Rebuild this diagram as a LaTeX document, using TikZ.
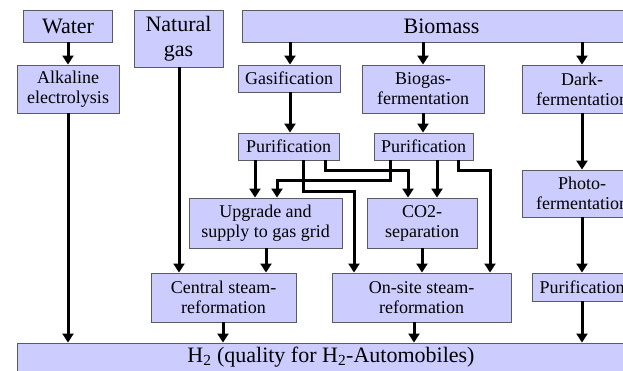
\documentclass[tikz,border=0pt]{standalone}
\usepackage{fontspec}
\setmainfont{Liberation Serif}
\usetikzlibrary{arrows.meta}
\definecolor{boxfill}{RGB}{204,204,255}
\definecolor{boxline}{RGB}{90,90,100}
\tikzset{
  box/.style={draw=boxline, line width=0.9pt, fill=boxfill, inner sep=0pt, align=center,
    font=\fontsize{18}{20}\selectfont},
  bigbox/.style={box, font=\fontsize{22}{25}\selectfont},
  arr/.style={line width=3pt, -{Triangle[width=11pt,length=9pt]}},
  ln/.style={line width=3pt}
}
\begin{document}
\begin{tikzpicture}[x=1pt,y=-1pt]
\useasboundingbox (0,0) rectangle (623,370);
\clip (0,0) rectangle (623,370);
% top row
\node[bigbox, minimum width=89pt, minimum height=32pt] (water) at (68,26) {Water};
\node[bigbox, minimum width=89pt, minimum height=57pt] (ngas) at (178.5,38.5) {Natural\\gas};
\node[bigbox, minimum width=399pt, minimum height=32pt] (biomass) at (441.5,26) {Biomass};
% second row
\node[box, minimum width=102pt, minimum height=48pt] (alk) at (68,89) {Alkaline\\electrolysis};
\node[box, minimum width=102pt, minimum height=27pt] (gasif) at (289,78.5) {Gasification};
\node[box, minimum width=122pt, minimum height=48pt] (biogas) at (423,89) {Biogas-\\fermentation};
\node[box, minimum width=120pt, minimum height=48pt] (dark) at (582,89) {Dark-\\fermentation};
% purification row
\node[box, minimum width=101pt, minimum height=27pt] (p1) at (288.5,146.5) {Purification};
\node[box, minimum width=99pt, minimum height=27pt] (p2) at (423.5,146.5) {Purification};
\node[box, minimum width=120pt, minimum height=47pt] (photo) at (582,193.5) {Photo-\\fermentation};
% middle row
\node[box, minimum width=153pt, minimum height=50pt] (upgrade) at (265.5,223) {Upgrade and\\supply to gas grid};
\node[box, minimum width=110pt, minimum height=50pt] (co2) at (422,223) {CO2-\\separation};
% reformers
\node[box, minimum width=145pt, minimum height=49pt] (central) at (223.5,297.5) {Central steam-\\reformation};
\node[box, minimum width=179pt, minimum height=49pt] (onsite) at (421.5,297.5) {On-site steam-\\reformation};
\node[box, minimum width=100pt, minimum height=28pt] (p3) at (582,287) {Purification};
% H2
\node[bigbox, minimum width=628pt, minimum height=28pt] (h2) at (331,357) {H\textsubscript{2} (quality for H\textsubscript{2}-Automobiles)};

% straight connectors
\draw[arr] (water.south) -- (alk.north);
\draw[arr] (alk.south) -- (alk.south |- h2.north);
\coordinate (ng) at (179,0);
\draw[arr] (ng |- ngas.south) -- (ng |- central.north);
\coordinate (bg) at (290,0);
\draw[arr] (bg |- biomass.south) -- (bg |- gasif.north);
\draw[arr] (bg |- gasif.south) -- (bg |- p1.north);
\draw[arr] (biogas.north |- biomass.south) -- (biogas.north);
\draw[arr] (biogas.south) -- (biogas.south |- p2.north);
\draw[arr] (dark.north |- biomass.south) -- (dark.north);
\draw[arr] (dark.south) -- (photo.north);
\draw[arr] (photo.south) -- (p3.north);
\draw[arr] (p3.south) -- (p3.south |- h2.north);
\coordinate (u1) at (255,0);
\draw[arr] (u1 |- p1.south) -- (u1 |- upgrade.north);
\coordinate (c2) at (437,0);
\draw[arr] (c2 |- p2.south) -- (c2 |- co2.north);
\coordinate (uc) at (266,0);
\draw[arr] (uc |- upgrade.south) -- (uc |- central.north);
\draw[arr] (co2.south) -- (co2.south |- onsite.north);
\coordinate (ch) at (223,0);
\draw[arr] (ch |- central.south) -- (ch |- h2.north);
\coordinate (oh) at (414,0);
\draw[arr] (oh |- onsite.south) -- (oh |- h2.north);

% bent connectors
\coordinate (a1) at (303,191); \coordinate (a2) at (354,191);
\draw[arr] (a1 |- p1.south) -- (a1) -- (a2) -- (a2 |- onsite.north);
\coordinate (b1) at (325,170); \coordinate (b2) at (408,170);
\draw[arr] (b1 |- p1.south) -- (b1) -- (b2) -- (b2 |- co2.north);
\coordinate (d1) at (390,180); \coordinate (d2) at (277,180);
\draw[arr] (d1 |- p2.south) -- (d1) -- (d2) -- (d2 |- upgrade.north);
\coordinate (e1) at (458,170); \coordinate (e2) at (490,170);
\draw[arr] (e1 |- p2.south) -- (e1) -- (e2) -- (e2 |- onsite.north);
\end{tikzpicture}
\end{document}
